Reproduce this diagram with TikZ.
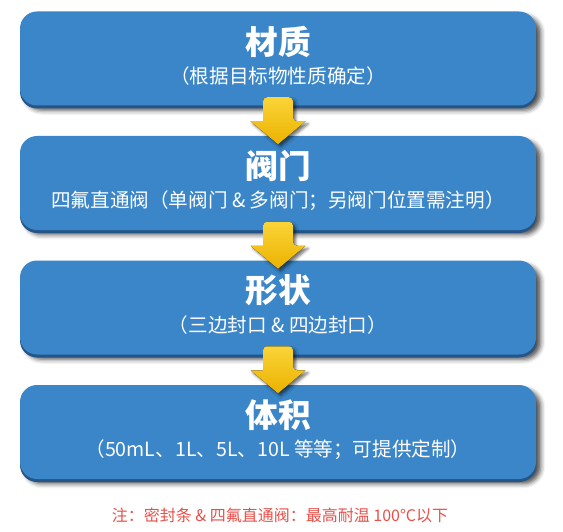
\documentclass[tikz,border=0pt]{standalone}
\usepackage{fontspec}
\setmainfont{Noto Sans CJK SC}
\usetikzlibrary{shadows.blur,calc}
\definecolor{boxblue}{RGB}{58,134,200}
\definecolor{boxedge}{RGB}{36,84,136}
\definecolor{arrowtop}{RGB}{250,212,56}
\definecolor{arrowbot}{RGB}{236,178,0}
\definecolor{notered}{RGB}{232,80,74}
\tikzset{
  stepbox/.style={rectangle, rounded corners=12.75pt, fill=boxblue,
    minimum width=387pt, minimum height=70.5pt, inner sep=0pt,
    blur shadow={shadow xshift=3.5pt, shadow yshift=-3.5pt, shadow blur radius=3.5pt, shadow opacity=70},
    preaction={fill=boxedge, transform canvas={yshift=-2.25pt}}},
  steptitle/.style={inner sep=0pt, text=white, font=\fontsize{24.5}{25}\selectfont\bfseries},
  stepnote/.style={inner sep=0pt, text=white, font=\fontsize{14.7}{16}\selectfont},
  flowarrow/.style={top color=arrowtop, bottom color=arrowbot,
    blur shadow={shadow xshift=2pt, shadow yshift=-2pt, shadow blur radius=2pt, shadow opacity=55}},
}
\begin{document}
\begin{tikzpicture}[x=0.75pt,y=0.75pt,yscale=-1,xscale=1]
  \useasboundingbox (0,0) rectangle (563,531);
  % Boxes
  \node[stepbox] (b1) at (278,58.5) {};
  \node[stepbox] (b2) at (278,183) {};
  \node[stepbox] (b3) at (278,307.5) {};
  \node[stepbox] (b4) at (278,432) {};

  % Arrows between the boxes
  \path ($(b1.south)!0.5!(b2.north)$) coordinate (m1);
  \path ($(b2.south)!0.5!(b3.north)$) coordinate (m2);
  \path ($(b3.south)!0.5!(b4.north)$) coordinate (m3);
  \fill[flowarrow] (m1) ++(-15,0.5) [rounded corners=3pt] -- ++(0,-24) -- ++(30,0) -- ++(0,24) [sharp corners] -- ++(12.5,0) -- ++(-27.5,23) -- ++(-27.5,-23) -- cycle;
  \fill[flowarrow] (m2) ++(-15,0.5) [rounded corners=3pt] -- ++(0,-24) -- ++(30,0) -- ++(0,24) [sharp corners] -- ++(12.5,0) -- ++(-27.5,23) -- ++(-27.5,-23) -- cycle;
  \fill[flowarrow] (m3) ++(-15,0.5) [rounded corners=3pt] -- ++(0,-24) -- ++(30,0) -- ++(0,24) [sharp corners] -- ++(12.5,0) -- ++(-27.5,23) -- ++(-27.5,-23) -- cycle;

  % Text Node
  \node[steptitle] (t1) at ([yshift=-12.75pt]b1.center) {材质};
  \node[stepnote] (n1) at ([yshift=13.25pt]b1.center) {（根据目标物性质确定）};
  % Text Node
  \node[steptitle] (t2) at ([yshift=-12.75pt]b2.center) {阀门};
  \node[stepnote] (n2) at ([yshift=13.25pt]b2.center) {四氟直通阀（单阀门 \& 多阀门；另阀门位置需注明）};
  % Text Node
  \node[steptitle] (t3) at ([yshift=-12.75pt]b3.center) {形状};
  \node[stepnote] (n3) at ([yshift=13.25pt]b3.center) {（三边封口 \& 四边封口）};
  % Text Node
  \node[steptitle] (t4) at ([yshift=-12.75pt]b4.center) {体积};
  \node[stepnote] (n4) at ([yshift=13.25pt]b4.center) {（50mL、1L、5L、10L 等等；可提供定制）};
  % Text Node
  \node[inner sep=0pt, text=notered, font=\fontsize{12}{14}\selectfont] (note) at (280,515) {注：密封条 \& 四氟直通阀：最高耐温 100°C以下};
\end{tikzpicture}
\end{document}
